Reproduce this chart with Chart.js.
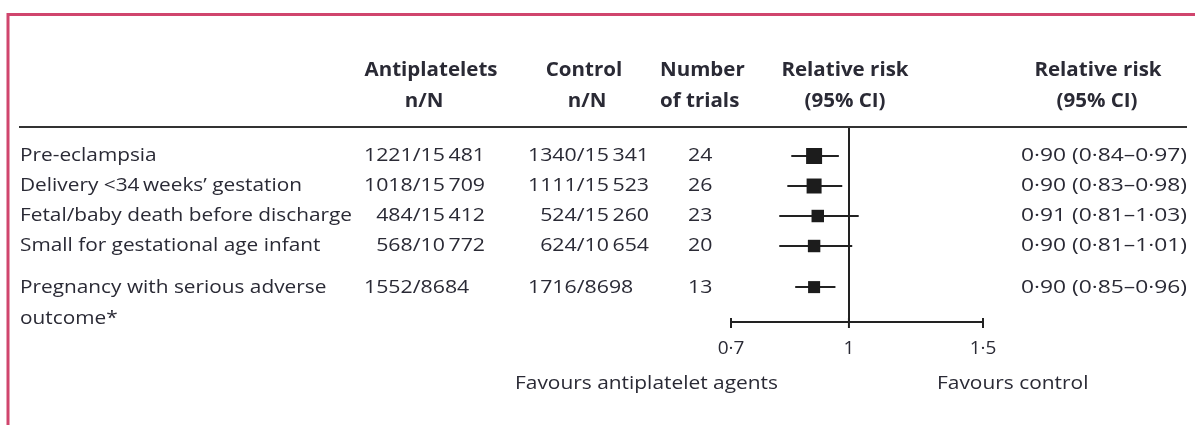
<!DOCTYPE html>
<html>
<head>
<meta charset="utf-8">
<script src="https://cdn.jsdelivr.net/npm/chart.js@4.4.1/dist/chart.umd.min.js"></script>
<style>
  html, body { margin: 0; padding: 0; background: #fff; }
  #wrap { position: relative; width: 1195px; height: 425px; }
</style>
</head>
<body>
<div id="wrap"><canvas id="forest"></canvas></div>
<script>
// Table data
const outcomes = [
    ['Pre-eclampsia'],
    ['Delivery <34\u2009weeks\u2019 gestation'],
    ['Fetal/baby death before discharge'],
    ['Small for gestational age infant'],
    ['Pregnancy with serious adverse', 'outcome*']
];
const antiplateletCounts = ['1221/15\u2009481', '1018/15\u2009709', '484/15\u2009412', '568/10\u2009772', '1552/8684'];
const controlCounts = ['1340/15\u2009341', '1111/15\u2009523', '524/15\u2009260', '624/10\u2009654', '1716/8698'];
const trialCounts = [24, 26, 23, 20, 13];
const relativeRisk = [0.90, 0.90, 0.91, 0.90, 0.90];
const ciLower = [0.84, 0.83, 0.81, 0.81, 0.85];
const ciUpper = [0.97, 0.98, 1.03, 1.01, 0.96];
const xTicks = [0.7, 1, 1.5];

const TEXT = '#2a2a35';
const LINE = '#222';
const FONT = '"Open Sans", Lato, sans-serif';

// row position on the y scale (last row sits a bit lower)
const rowPos = i => i + (i >= 4 ? 0.37 : 0);
const fmt = v => v.toFixed(2).replace('.', '\u00b7');
const ciText = i => `${fmt(relativeRisk[i])} (${fmt(ciLower[i])}\u2013${fmt(ciUpper[i])})`;

const datasets = [{
    type: 'scatter',
    label: 'Relative risk',
    data: relativeRisk.map((v, i) => ({ x: v, y: rowPos(i) })),
    pointStyle: 'rect',
    pointRadius: [11.3, 10.6, 8.8, 8.8, 8.5],
    backgroundColor: '#1c1c1c',
    borderWidth: 0,
    order: 0
}];
ciLower.forEach((lo, i) => {
    datasets.push({
        type: 'line',
        label: 'CI ' + i,
        data: [{ x: lo, y: rowPos(i) }, { x: ciUpper[i], y: rowPos(i) }],
        borderColor: LINE,
        borderWidth: 2,
        pointRadius: 0,
        order: 1
    });
});

// the original typeface is wider than anything installed, so stretch text horizontally
function stretchFor(ctx, sample, width) {
    return width / ctx.measureText(sample).width;
}
function drawText(ctx, text, x, y, align, sx) {
    ctx.save();
    ctx.translate(x, y);
    ctx.scale(sx, 1);
    ctx.textAlign = align;
    ctx.fillText(text, 0, 0);
    ctx.restore();
}

const tablePlugin = {
    id: 'tableText',
    afterDraw(chart) {
        const { ctx, scales: { x, y }, chartArea } = chart;
        ctx.save();

        // frame
        ctx.strokeStyle = '#d0456d';
        ctx.lineWidth = 3;
        ctx.strokeRect(8, 14.5, 1300, 500);

        // header rule
        ctx.strokeStyle = '#333';
        ctx.lineWidth = 2;
        ctx.beginPath();
        ctx.moveTo(19, chartArea.top);
        ctx.lineTo(1187, chartArea.top);
        ctx.stroke();

        // tick marks crossing the axis
        ctx.strokeStyle = LINE;
        ctx.lineWidth = 2;
        x.ticks.forEach(t => {
            const px = x.getPixelForValue(t.value);
            ctx.beginPath();
            ctx.moveTo(px, chartArea.bottom - 4);
            ctx.lineTo(px, chartArea.bottom + 6);
            ctx.stroke();
        });

        ctx.fillStyle = TEXT;
        ctx.textBaseline = 'middle';

        // headers
        ctx.font = `bold 19px ${FONT}`;
        const sh = stretchFor(ctx, 'Antiplatelets', 133);
        const h1 = 71, h2 = 102;
        drawText(ctx, 'Antiplatelets', 431, h1, 'center', sh);
        drawText(ctx, 'n/N', 424, h2, 'center', sh);
        drawText(ctx, 'Control', 584, h1, 'center', sh);
        drawText(ctx, 'n/N', 587, h2, 'center', sh);
        drawText(ctx, 'Relative risk', 845, h1, 'center', sh);
        drawText(ctx, '(95% CI)', 845, h2, 'center', sh);
        drawText(ctx, 'Relative risk', 1098, h1, 'center', sh);
        drawText(ctx, '(95% CI)', 1097, h2, 'center', sh);
        drawText(ctx, 'Number', 660, h1, 'left', sh);
        drawText(ctx, 'of trials', 660, h2, 'left', sh);

        // rows
        ctx.font = `19px ${FONT}`;
        const sLab = stretchFor(ctx, outcomes[2][0], 332);
        const sNum = stretchFor(ctx, antiplateletCounts[0], 121);
        const sCi = stretchFor(ctx, ciText(0), 166);
        const numW = ctx.measureText('1221').width * sNum;
        const drawCount = (s, left, py) => {
            const [n, d] = s.split('/');
            drawText(ctx, n, left + numW, py, 'right', sNum);
            drawText(ctx, '/' + d, left + numW, py, 'left', sNum);
        };
        outcomes.forEach((lines, i) => {
            const py = y.getPixelForValue(rowPos(i));
            lines.forEach((ln, k) => drawText(ctx, ln, 20, py + k * 31, 'left', sLab));
            drawCount(antiplateletCounts[i], 364, py);
            drawCount(controlCounts[i], 528, py);
            drawText(ctx, String(trialCounts[i]), 688, py, 'left', sNum);
            drawText(ctx, ciText(i), 1021, py, 'left', sCi);
        });

        // favours labels
        ctx.font = `18px ${FONT}`;
        const sFav = stretchFor(ctx, 'Favours antiplatelet agents', 263);
        drawText(ctx, 'Favours antiplatelet agents', 515, 384, 'left', sFav);
        drawText(ctx, 'Favours control', 937, 384, 'left', sFav);

        ctx.restore();
    }
};

new Chart(document.getElementById('forest'), {
    data: { datasets },
    plugins: [tablePlugin],
    options: {
        responsive: true,
        maintainAspectRatio: false,
        animation: false,
        events: [],
        layout: { padding: { left: 731, right: 212, top: 127, bottom: 48 } },
        plugins: { legend: { display: false }, tooltip: { enabled: false } },
        scales: {
            x: {
                type: 'logarithmic',
                min: 0.7,
                max: 1.5,
                afterBuildTicks: axis => { axis.ticks = xTicks.map(v => ({ value: v })); },
                afterFit: axis => { axis.height = 55; },
                ticks: {
                    autoSkip: false,
                    maxRotation: 0,
                    padding: 15,
                    color: TEXT,
                    font: { family: FONT, size: 19 },
                    callback: v => String(v).replace('.', '\u00b7')
                },
                grid: {
                    drawTicks: false,
                    lineWidth: 2,
                    color: c => (c.tick && c.tick.value === 1) ? LINE : 'rgba(0,0,0,0)'
                },
                border: { display: true, color: LINE, width: 2 }
            },
            y: {
                type: 'linear',
                display: false,
                reverse: true,
                min: -0.967,
                max: 5.533
            }
        }
    }
});
</script>
</body>
</html>
